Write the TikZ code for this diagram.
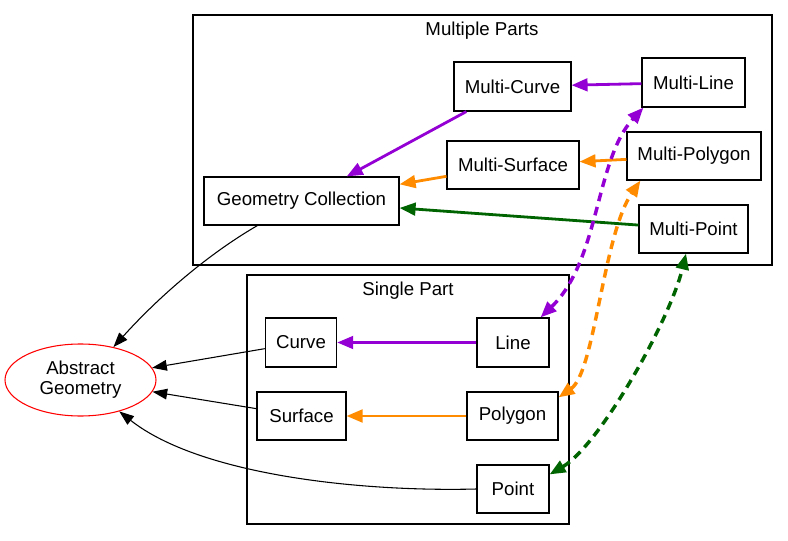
\documentclass[tikz,border=0pt]{standalone}
\usepackage{fontspec}
\setmainfont{Liberation Sans}
\usetikzlibrary{arrows.meta,shapes.geometric}
\definecolor{violetedge}{HTML}{9400D3}
\definecolor{orangeedge}{HTML}{FF8C00}
\definecolor{greenedge}{HTML}{006400}
\tikzset{
  every node/.style={font=\fontsize{14}{15}\selectfont},
  box/.style={draw, rectangle, inner sep=0pt, line width=0.85pt},
  cluster/.style={draw, line width=0.85pt},
  plain/.style={line width=0.8pt, -{Triangle[length=11pt,width=8pt]}},
  solidc/.style={line width=2.1pt, -{Triangle[length=12pt,width=9.5pt]}},
  dashc/.style={line width=2.6pt, dash pattern=on 6.5pt off 4.5pt,
    {Triangle[length=12pt,width=9.5pt]}-{Triangle[length=12pt,width=9.5pt]}},
}
\begin{document}
\begin{tikzpicture}[x=0.75pt, y=-0.75pt]
\useasboundingbox (0,0) rectangle (788,541);

% clusters
\draw[cluster] (193,15) rectangle (772,265);
\node (lblmulti) at (482,31) {Multiple Parts};
\draw[cluster] (247,275) rectangle (569,524);
\node (lblsingle) at (408,291) {Single Part};

% multi-part geometries
\node[box, minimum width=87.75pt, minimum height=36.75pt] (MC) at (512.5,86.5) {Multi-Curve};
\node[box, minimum width=77.25pt, minimum height=36.75pt] (ML) at (693.5,82.5) {Multi-Line};
\node[box, minimum width=99pt, minimum height=36pt] (MS) at (513,165) {Multi-Surface};
\node[box, minimum width=100.5pt, minimum height=36pt] (MPg) at (694,156) {Multi-Polygon};
\node[box, minimum width=81.75pt, minimum height=36pt] (MPt) at (693.5,229) {Multi-Point};
\node[box, minimum width=146.25pt, minimum height=36pt] (GC) at (301.5,201) {Geometry Collection};

% single-part geometries
\node[box, minimum width=53.5pt, minimum height=36.75pt] (Cu) at (301,342.5) {Curve};
\node[box, minimum width=66.75pt, minimum height=36pt] (Su) at (301.5,416) {Surface};
\node[box, minimum width=54pt, minimum height=36.75pt] (Li) at (513,342.5) {Line};
\node[box, minimum width=68.25pt, minimum height=36pt] (Po) at (512.5,416) {Polygon};
\node[box, minimum width=54pt, minimum height=36pt] (Pt) at (513,489) {Point};

% root
\node[draw=red, ellipse, inner sep=0pt, line width=0.8pt, minimum width=113.25pt,
      minimum height=54pt, align=center] (AG) at (80.5,380) {Abstract\\Geometry};

% inheritance inside the multi-part group
\draw[solidc, violetedge] (ML) -- (MC);
\draw[solidc, violetedge] (MC) -- (GC);
\draw[solidc, orangeedge] (MPg) -- (MS);
\draw[solidc, orangeedge] (MS) -- (GC);
\draw[solidc, greenedge] (MPt) -- (GC);

% inheritance inside the single-part group
\draw[solidc, violetedge] (Li) -- (Cu);
\draw[solidc, orangeedge] (Po) -- (Su);

% edges to the root
\draw[plain] ([xshift=40.5pt]GC.south west) .. controls (215,250) and (165,290) .. (AG.45);
\draw[plain] (Cu) -- (AG);
\draw[plain] (Su) -- (AG);
\draw[plain] (Pt.west) .. controls (360,492) and (200,475) .. (AG.-39);

% part/collection associations
\draw[dashc, violetedge] ([xshift=-6.75pt]Li.north east) .. controls (600,260) and (595,160) .. ([xshift=1.5pt]ML.south west);
\draw[dashc, orangeedge] ([yshift=-4.5pt]Po.north east) .. controls (595,372) and (603,235) .. ([xshift=10.5pt]MPg.south west);
\draw[dashc, greenedge] ([yshift=-7.5pt]Pt.north east) .. controls (600,445) and (670,320) .. ([xshift=-5.6pt]MPt.south);
\end{tikzpicture}
\end{document}
